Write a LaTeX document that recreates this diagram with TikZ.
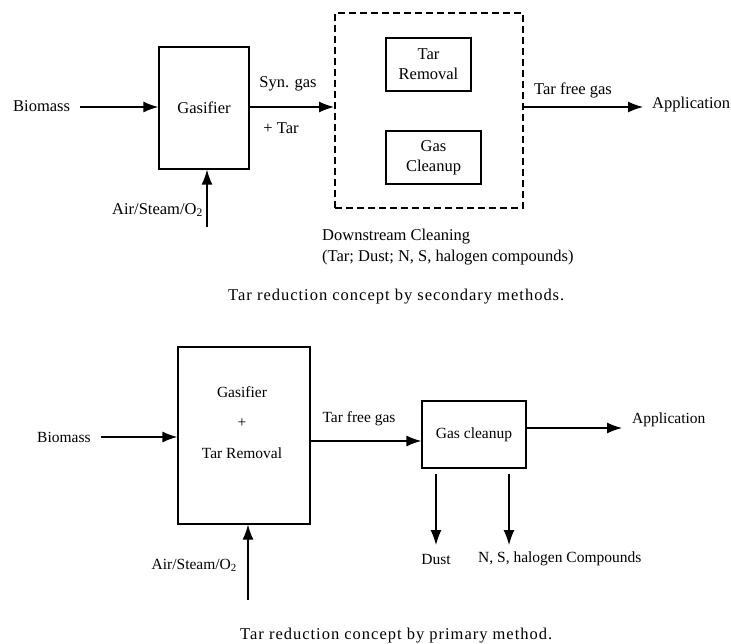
\documentclass[tikz,border=0pt]{standalone}
\usepackage{fontspec}
\setmainfont{Liberation Serif}
\newfontfamily\capfont[LetterSpace=6]{Liberation Serif}
\usetikzlibrary{arrows.meta}
\begin{document}
\begin{tikzpicture}[x=1pt,y=-1pt,
  box/.style={draw,line width=1.3pt,inner sep=0pt},
  dbox/.style={draw,line width=2pt,dash pattern=on 7pt off 4pt,inner sep=0pt},
  arr/.style={line width=1.3pt,-{Latex[length=15pt,width=11pt]}},
  lbl/.style={inner sep=0pt,font=\fontsize{16.5}{20}\selectfont},
  lblb/.style={inner sep=0pt,font=\fontsize{15.5}{19}\selectfont},
  captxt/.style={inner sep=0pt,anchor=west,font={\capfont\fontsize{16.5}{20}\selectfont}},
]
\useasboundingbox[fill=white] (0,0) rectangle (731,644);

% ---------- top diagram ----------
\node[lbl,anchor=west] (bio1) at (13,106) {Biomass};
\node[box,lbl,minimum width=90pt,minimum height=122pt] (gas1) at (204,108) {Gasifier};
\node[dbox,minimum width=188pt,minimum height=195pt] (dcl) at (429,110.5) {};
\node[box,lbl,align=center,minimum width=85pt,minimum height=53pt] (tr) at (428.5,64.5) {Tar\\Removal};
\node[box,lbl,align=center,minimum width=95pt,minimum height=53pt] (gc) at (433.5,157.5) {Gas\\Cleanup};
\coordinate (b1s) at (80,107);
\coordinate (a1e) at (643,107);
\draw[arr] (b1s) -- (gas1.west |- b1s);
\draw[arr] (gas1.east |- b1s) -- (dcl.west |- b1s);
\draw[arr] (dcl.east |- a1e) -- (a1e);
\node[lbl] (syn) at (288,84) {Syn. gas};
\node[lbl] (ptar) at (281,128) {+ Tar};
\node[lbl] (tfg1) at (573,90) {Tar free gas};
\node[lbl,anchor=west] (app1) at (652,105) {Application};
\coordinate (air1s) at (207,227);
\draw[arr] (air1s) -- (air1s |- gas1.south);
\node[lbl,anchor=east] (air1) at (203,210) {Air/Steam/O\textsubscript{2}};
\node[lbl,anchor=west,align=left,font=\fontsize{16.5}{21}\selectfont] (dsc) at (322,247.5) {Downstream Cleaning\\(Tar; Dust; N, S, halogen compounds)};
\node[captxt] (cap1) at (228,297) {Tar reduction concept by secondary methods.};

% ---------- bottom diagram ----------
\node[box,minimum width=132pt,minimum height=177pt] (gas2) at (244,435.5) {};
\node[inner sep=0pt,align=center,font=\fontsize{15.5}{30.5}\selectfont] (gas2t) at (242,422.5) {Gasifier\\+\\Tar Removal};
\node[lblb,anchor=west] (bio2) at (37,437) {Biomass};
\node[box,lblb,minimum width=104pt,minimum height=67pt] (gcl) at (474,434.5) {Gas cleanup};
\coordinate (b2s) at (101,437);
\draw[arr] (b2s) -- (gas2.west |- b2s);
\coordinate (tf) at (366,441);
\draw[arr] (gas2.east |- tf) -- (gcl.west |- tf);
\node[lblb] (tfg2) at (359,419) {Tar free gas};
\coordinate (a2e) at (622,428);
\draw[arr] (gcl.east |- a2e) -- (a2e);
\node[lblb,anchor=west] (app2) at (632,420) {Application};
\coordinate (d1e) at (436,545);
\coordinate (d2e) at (509,545);
\path (gcl.south -| d1e) ++(0,5) coordinate (d1s);
\path (gcl.south -| d2e) ++(0,5) coordinate (d2s);
\draw[arr] (d1s) -- (d1e);
\draw[arr] (d2s) -- (d2e);
\node[lblb] (dust) at (436,559) {Dust};
\node[lblb,anchor=west] (nsh) at (478,559) {N, S, halogen Compounds};
\coordinate (air2s) at (248,600);
\draw[arr] (air2s) -- (air2s |- gas2.south);
\node[lblb,anchor=east] (air2) at (237,565) {Air/Steam/O\textsubscript{2}};
\node[captxt] (cap2) at (240,636) {Tar reduction concept by primary method.};
\end{tikzpicture}
\end{document}
